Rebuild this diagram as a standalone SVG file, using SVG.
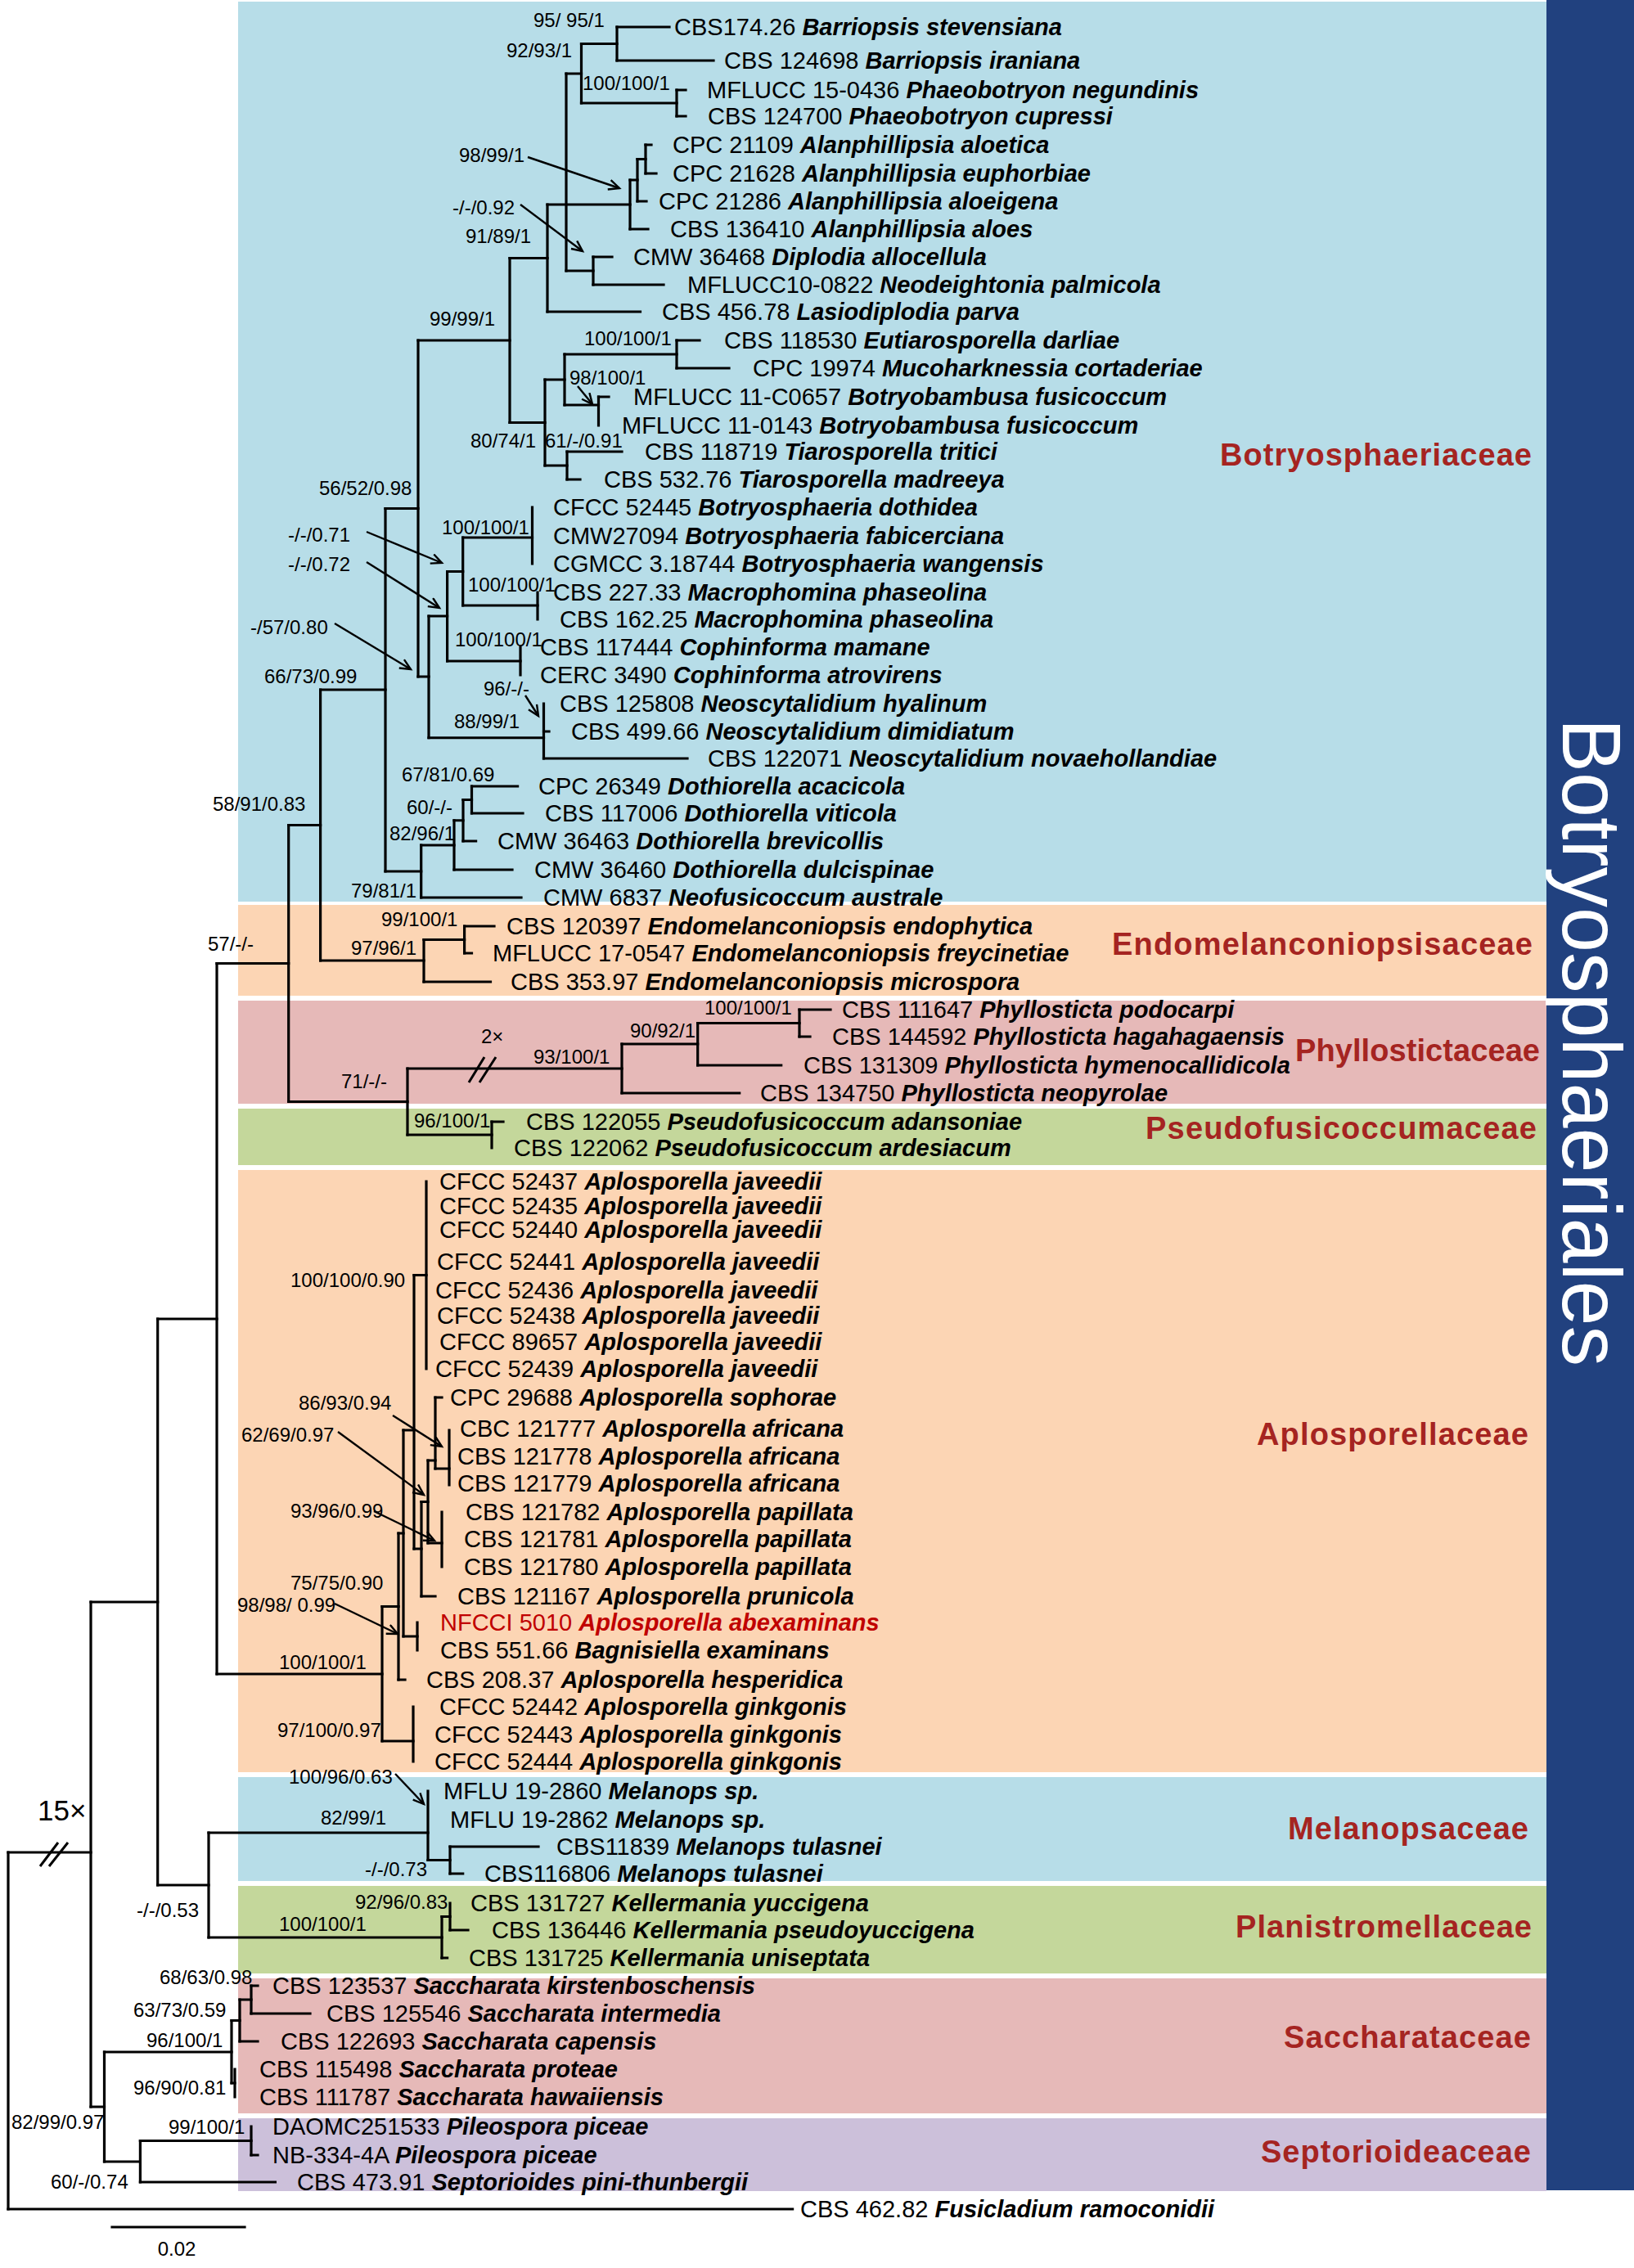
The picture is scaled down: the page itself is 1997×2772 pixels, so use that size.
<svg xmlns="http://www.w3.org/2000/svg" width="1997" height="2772" viewBox="0 0 1997 2772">
<defs>
<style>
.tx{font-family:"Liberation Sans",Arial,sans-serif;font-size:29px;fill:#000}
.sp{font-weight:bold;font-style:italic}
.red{fill:#c00000}
.bs{font-family:"Liberation Sans",Arial,sans-serif;font-size:24px;fill:#000}
.big{font-family:"Liberation Sans",Arial,sans-serif;fill:#000}
.fam{font-family:"Liberation Sans",Arial,sans-serif;font-size:38px;font-weight:bold;fill:#a52421}
.br{fill:none;stroke:#000;stroke-width:3.2;stroke-linecap:square}
.ar{fill:none;stroke:#000;stroke-width:2.4}
.brk{fill:none;stroke:#000;stroke-width:3}
</style>
<marker id="ah" markerUnits="userSpaceOnUse" markerWidth="20" markerHeight="20" refX="14" refY="7" orient="auto"><path d="M1,1 L14,7 L1,13" fill="none" stroke="#000" stroke-width="2.4"/></marker>
</defs>
<rect width="1997" height="2772" fill="#fff"/>
<g id="bands">
<rect x="291" y="2" width="1599" height="1100" fill="#b7dde8"/>
<rect x="291" y="1106" width="1599" height="111" fill="#fcd5b4"/>
<rect x="291" y="1223" width="1599" height="126" fill="#e6b9b8"/>
<rect x="291" y="1355" width="1599" height="69" fill="#c4d79b"/>
<rect x="291" y="1430" width="1599" height="736" fill="#fcd5b4"/>
<rect x="291" y="2172" width="1599" height="127" fill="#b7dde8"/>
<rect x="291" y="2305" width="1599" height="107" fill="#c4d79b"/>
<rect x="291" y="2418" width="1599" height="165" fill="#e6b9b8"/>
<rect x="291" y="2589" width="1599" height="89" fill="#ccc0da"/>
<rect x="1890" y="0" width="107" height="2677" fill="#21417f"/>
<text transform="translate(1910,878) rotate(90)" font-family="Liberation Sans,Arial,sans-serif" font-size="102" fill="#fff" textLength="792" lengthAdjust="spacingAndGlyphs">Botryosphaeriales</text>
</g>
<g id="connectors">
<path class="br" d="M754,33V74M827,110V142M710.5,53.5V126M725,314V348M692,90V331M789,177V212M779,194.5V246M770,220V280M669,250V381M827,416V450M731.5,485V520M690,433V495M693,552V586M666,464V569M623,315.5V516.5M650.5,620V689M657,724V757M565.7,657V740M636,791V825M546.6,698.5V808M664.5,860V927M524,753V901.75M511,416V827M576.5,961V994M566,977.5V1028M555,1002.75V1063M514.7,1033V1097M471,621.5V1065M567.6,1132V1165M518,1148.5V1200M391.6,843V1174M977,1234V1267M852.7,1250.5V1302M760,1276V1336M601,1371V1403M498,1306V1387M352.7,1008.5V1346.5M521,1444V1673M549,1748V1815M532,1708V1795M540,1848V1915M523,1785V1886M515,1835.5V1951M506,1558.5V1893M510,1983V2017M493,1748V2000M487,1874V2053M505,2086V2153M467,1963.5V2128M265,1177.5V2046M550,2257V2290M523,2189V2273.5M550,2326V2359M540,2342.5V2393M255,2240V2368M192.7,1612V2304M307,2427V2461M293,2444V2495M287,2529V2563M283,2469.5V2546M307,2599V2634M171.4,2616.5V2667M127.5,2508V2642M111,1958V2575M10,2264V2700"/>
<path class="br" d="M754,33H818M754,74H872M827,110H838M827,142H838M710.5,53.5H754M710.5,126H827M725,314H748M725,348H811M692,90H710.5M692,331H725M789,177H796M789,212H802M779,194.5H789M779,246H790M770,220H779M770,280H792M669,250H770M669,381H782.5M827,416H855M827,450H891M731.5,485H744M690,433H827M690,495H731.5M693,552H760M693,586H709M666,464H690M666,569H693M623,315.5H669M623,516.5H666M565.7,657H650.5M565.7,740H657M546.6,808H636M546.6,698.5H565.7M664.5,927H840M664.5,894H671M524,753H546.6M524,901.75H664.5M511,416H623M511,827H524M576.5,961H632.6M576.5,994H639M566,977.5H576.5M566,1028H581.6M555,1002.75H566M555,1063H626M514.7,1033H555M514.7,1097H637M471,621.5H511M471,1065H514.7M567.6,1132H604M567.6,1165H576.5M518,1148.5H567.6M518,1200H599.5M391.6,843H471M391.6,1174H518M977,1234H1015M977,1267H990M852.7,1250.5H977M852.7,1302H954.7M760,1276H852.7M760,1336H903.7M601,1371H615M498,1306H760M498,1387H601M352.7,1008.5H391.6M352.7,1346.5H498M506,1558.5H521M532,1708H540M532,1795H549M523,1785H532M523,1886H540M515,1951H532M515,1835.5H523M506,1893H515M493,1748H506M493,2000H510M487,2053H495M487,1874H493M467,1963.5H487M467,2128H505M265,1177.5H352.7M265,2046H467M550,2257H658M550,2290H565.7M523,2273.5H550M550,2359H572M540,2342.5H550M540,2393H546.6M255,2240H523M255,2368H540M192.7,1612H265M192.7,2304H255M307,2427H315M307,2461H379M293,2444H307M293,2495H315M283,2469.5H293M283,2546H287M307,2634H315M171.4,2616.5H307M171.4,2667H336.4M127.5,2508H283M127.5,2642H171.4M111,1958H192.7M111,2575H127.5M10,2264H111M10,2700H968.6"/>
<path class="brk" d="M573,1323L592,1292M586,1323L606,1292M49,2281L71,2252M60,2281L83,2252"/>
<path class="br" d="M137,2722H299"/>
<g class="ar" marker-end="url(#ah)">
<line x1="645" y1="192" x2="757" y2="230"/>
<line x1="636" y1="250" x2="712" y2="307"/>
<line x1="706" y1="472" x2="724" y2="494"/>
<line x1="448" y1="650" x2="540" y2="688"/>
<line x1="448" y1="687" x2="537" y2="743"/>
<line x1="409" y1="762" x2="502" y2="818"/>
<line x1="642" y1="850" x2="658" y2="875"/>
<line x1="480" y1="1730" x2="540" y2="1768"/>
<line x1="413" y1="1750" x2="518" y2="1827"/>
<line x1="457" y1="1847" x2="531" y2="1883"/>
<line x1="409" y1="1960" x2="486" y2="1997"/>
<line x1="483" y1="2168" x2="518" y2="2205"/>
</g>
</g>
<g id="support" class="bs">
<text x="652" y="33">95/ 95/1</text>
<text x="619" y="70">92/93/1</text>
<text x="712" y="110">100/100/1</text>
<text x="561" y="198">98/99/1</text>
<text x="553" y="262">-/-/0.92</text>
<text x="569" y="297">91/89/1</text>
<text x="525" y="398">99/99/1</text>
<text x="714" y="422">100/100/1</text>
<text x="696" y="470">98/100/1</text>
<text x="575" y="547">80/74/1</text>
<text x="666" y="547">61/-/0.91</text>
<text x="390" y="605">56/52/0.98</text>
<text x="540" y="653">100/100/1</text>
<text x="352" y="662">-/-/0.71</text>
<text x="352" y="698">-/-/0.72</text>
<text x="572" y="723">100/100/1</text>
<text x="306" y="775">-/57/0.80</text>
<text x="556" y="790">100/100/1</text>
<text x="323" y="835">66/73/0.99</text>
<text x="591" y="850">96/-/-</text>
<text x="555" y="890">88/99/1</text>
<text x="491" y="955">67/81/0.69</text>
<text x="260" y="991">58/91/0.83</text>
<text x="497" y="995">60/-/-</text>
<text x="476" y="1027">82/96/1</text>
<text x="429" y="1097">79/81/1</text>
<text x="466" y="1132">99/100/1</text>
<text x="254" y="1162">57/-/-</text>
<text x="429" y="1167">97/96/1</text>
<text x="861" y="1240">100/100/1</text>
<text x="770" y="1268">90/92/1</text>
<text x="588" y="1275">2×</text>
<text x="652" y="1300">93/100/1</text>
<text x="417" y="1330">71/-/-</text>
<text x="506" y="1378">96/100/1</text>
<text x="355" y="1573">100/100/0.90</text>
<text x="365" y="1723">86/93/0.94</text>
<text x="295" y="1762">62/69/0.97</text>
<text x="355" y="1855">93/96/0.99</text>
<text x="355" y="1943">75/75/0.90</text>
<text x="290" y="1970">98/98/ 0.99</text>
<text x="341" y="2040">100/100/1</text>
<text x="339" y="2123">97/100/0.97</text>
<text x="353" y="2180">100/96/0.63</text>
<text x="392" y="2230">82/99/1</text>
<text x="446" y="2293">-/-/0.73</text>
<text x="434" y="2333">92/96/0.83</text>
<text x="341" y="2360">100/100/1</text>
<text x="167" y="2343">-/-/0.53</text>
<text x="195" y="2425">68/63/0.98</text>
<text x="163" y="2465">63/73/0.59</text>
<text x="179" y="2502">96/100/1</text>
<text x="163" y="2560">96/90/0.81</text>
<text x="14" y="2602">82/99/0.97</text>
<text x="206" y="2608">99/100/1</text>
<text x="62" y="2675">60/-/0.74</text>
<text x="216" y="2757" text-anchor="middle">0.02</text>
<text x="46" y="2225" class="big" font-size="35">15×</text>
</g>
<g id="families" class="fam">
<text x="1491" y="569" textLength="381">Botryosphaeriaceae</text>
<text x="1359" y="1167" textLength="514">Endomelanconiopsisaceae</text>
<text x="1583" y="1297" textLength="299">Phyllostictaceae</text>
<text x="1400" y="1392" textLength="478">Pseudofusicoccumaceae</text>
<text x="1536" y="1766" textLength="332">Aplosporellaceae</text>
<text x="1574" y="2248" textLength="294">Melanopsaceae</text>
<text x="1510" y="2368" textLength="362">Planistromellaceae</text>
<text x="1569" y="2503" textLength="302">Saccharataceae</text>
<text x="1541" y="2643" textLength="330">Septorioideaceae</text>
</g>
<g id="taxa" class="tx">
<g id="n01"><text x="824" y="43">CBS174.26 <tspan class="sp">Barriopsis stevensiana</tspan></text></g>
<g id="n02"><text x="885" y="84">CBS 124698 <tspan class="sp">Barriopsis iraniana</tspan></text></g>
<g id="n03"><text x="864" y="120">MFLUCC 15-0436 <tspan class="sp">Phaeobotryon negundinis</tspan></text></g>
<g id="n04"><text x="865" y="152">CBS 124700 <tspan class="sp">Phaeobotryon cupressi</tspan></text></g>
<g id="n05"><text x="822" y="187">CPC 21109 <tspan class="sp">Alanphillipsia aloetica</tspan></text></g>
<g id="n06"><text x="822" y="222">CPC 21628 <tspan class="sp">Alanphillipsia euphorbiae</tspan></text></g>
<g id="n07"><text x="805" y="256">CPC 21286 <tspan class="sp">Alanphillipsia aloeigena</tspan></text></g>
<g id="n08"><text x="819" y="290">CBS 136410 <tspan class="sp">Alanphillipsia aloes</tspan></text></g>
<g id="n09"><text x="774" y="324">CMW 36468 <tspan class="sp">Diplodia allocellula</tspan></text></g>
<g id="n10"><text x="840" y="358">MFLUCC10-0822 <tspan class="sp">Neodeightonia palmicola</tspan></text></g>
<g id="n11"><text x="809" y="391">CBS 456.78 <tspan class="sp">Lasiodiplodia parva</tspan></text></g>
<g id="n12"><text x="885" y="426">CBS 118530 <tspan class="sp">Eutiarosporella darliae</tspan></text></g>
<g id="n13"><text x="920" y="460">CPC 19974 <tspan class="sp">Mucoharknessia cortaderiae</tspan></text></g>
<g id="n14"><text x="774" y="495">MFLUCC 11-C0657 <tspan class="sp">Botryobambusa fusicoccum</tspan></text></g>
<g id="n15"><text x="760" y="530">MFLUCC 11-0143 <tspan class="sp">Botryobambusa fusicoccum</tspan></text></g>
<g id="n16"><text x="788" y="562">CBS 118719 <tspan class="sp">Tiarosporella tritici</tspan></text></g>
<g id="n17"><text x="738" y="596">CBS 532.76 <tspan class="sp">Tiarosporella madreeya</tspan></text></g>
<g id="n18"><text x="676" y="630">CFCC 52445 <tspan class="sp">Botryosphaeria dothidea</tspan></text></g>
<g id="n19"><text x="676" y="665">CMW27094 <tspan class="sp">Botryosphaeria fabicerciana</tspan></text></g>
<g id="n20"><text x="676" y="699">CGMCC 3.18744 <tspan class="sp">Botryosphaeria wangensis</tspan></text></g>
<g id="n21"><text x="676" y="734">CBS 227.33 <tspan class="sp">Macrophomina phaseolina</tspan></text></g>
<g id="n22"><text x="684" y="767">CBS 162.25 <tspan class="sp">Macrophomina phaseolina</tspan></text></g>
<g id="n23"><text x="660" y="801">CBS 117444 <tspan class="sp">Cophinforma mamane</tspan></text></g>
<g id="n24"><text x="660" y="835">CERC 3490 <tspan class="sp">Cophinforma atrovirens</tspan></text></g>
<g id="n25"><text x="684" y="870">CBS 125808 <tspan class="sp">Neoscytalidium hyalinum</tspan></text></g>
<g id="n26"><text x="698" y="904">CBS 499.66 <tspan class="sp">Neoscytalidium dimidiatum</tspan></text></g>
<g id="n27"><text x="865" y="937">CBS 122071 <tspan class="sp">Neoscytalidium novaehollandiae</tspan></text></g>
<g id="n28"><text x="658" y="971">CPC 26349 <tspan class="sp">Dothiorella acacicola</tspan></text></g>
<g id="n29"><text x="666" y="1004">CBS 117006 <tspan class="sp">Dothiorella viticola</tspan></text></g>
<g id="n30"><text x="608" y="1038">CMW 36463 <tspan class="sp">Dothiorella brevicollis</tspan></text></g>
<g id="n31"><text x="653" y="1073">CMW 36460 <tspan class="sp">Dothiorella dulcispinae</tspan></text></g>
<g id="n32"><text x="664" y="1107">CMW 6837 <tspan class="sp">Neofusicoccum australe</tspan></text></g>
<g id="n33"><text x="619" y="1142">CBS 120397 <tspan class="sp">Endomelanconiopsis endophytica</tspan></text></g>
<g id="n34"><text x="602" y="1175">MFLUCC 17-0547 <tspan class="sp">Endomelanconiopsis freycinetiae</tspan></text></g>
<g id="n35"><text x="624" y="1210">CBS 353.97 <tspan class="sp">Endomelanconiopsis microspora</tspan></text></g>
<g id="n36"><text x="1029" y="1244">CBS 111647 <tspan class="sp">Phyllosticta podocarpi</tspan></text></g>
<g id="n37"><text x="1017" y="1277">CBS 144592 <tspan class="sp">Phyllosticta hagahagaensis</tspan></text></g>
<g id="n38"><text x="982" y="1312">CBS 131309 <tspan class="sp">Phyllosticta hymenocallidicola</tspan></text></g>
<g id="n39"><text x="929" y="1346">CBS 134750 <tspan class="sp">Phyllosticta neopyrolae</tspan></text></g>
<g id="n40"><text x="643" y="1381">CBS 122055 <tspan class="sp">Pseudofusicoccum adansoniae</tspan></text></g>
<g id="n41"><text x="628" y="1413">CBS 122062 <tspan class="sp">Pseudofusicoccum ardesiacum</tspan></text></g>
<g id="n42"><text x="537" y="1454">CFCC 52437 <tspan class="sp">Aplosporella javeedii</tspan></text></g>
<g id="n43"><text x="537" y="1484">CFCC 52435 <tspan class="sp">Aplosporella javeedii</tspan></text></g>
<g id="n44"><text x="537" y="1513">CFCC 52440 <tspan class="sp">Aplosporella javeedii</tspan></text></g>
<g id="n45"><text x="534" y="1552">CFCC 52441 <tspan class="sp">Aplosporella javeedii</tspan></text></g>
<g id="n46"><text x="532" y="1587">CFCC 52436 <tspan class="sp">Aplosporella javeedii</tspan></text></g>
<g id="n47"><text x="534" y="1618">CFCC 52438 <tspan class="sp">Aplosporella javeedii</tspan></text></g>
<g id="n48"><text x="537" y="1650">CFCC 89657 <tspan class="sp">Aplosporella javeedii</tspan></text></g>
<g id="n49"><text x="532" y="1683">CFCC 52439 <tspan class="sp">Aplosporella javeedii</tspan></text></g>
<g id="n50"><text x="550" y="1718">CPC 29688 <tspan class="sp">Aplosporella sophorae</tspan></text></g>
<g id="n51"><text x="562" y="1756">CBC 121777 <tspan class="sp">Aplosporella africana</tspan></text></g>
<g id="n52"><text x="559" y="1790">CBS 121778 <tspan class="sp">Aplosporella africana</tspan></text></g>
<g id="n53"><text x="559" y="1823">CBS 121779 <tspan class="sp">Aplosporella africana</tspan></text></g>
<g id="n54"><text x="569" y="1858">CBS 121782 <tspan class="sp">Aplosporella papillata</tspan></text></g>
<g id="n55"><text x="567" y="1891">CBS 121781 <tspan class="sp">Aplosporella papillata</tspan></text></g>
<g id="n56"><text x="567" y="1925">CBS 121780 <tspan class="sp">Aplosporella papillata</tspan></text></g>
<g id="n57"><text x="559" y="1961">CBS 121167 <tspan class="sp">Aplosporella prunicola</tspan></text></g>
<g id="n58"><text x="538" y="1993" class="red">NFCCI 5010 <tspan class="sp">Aplosporella abexaminans</tspan></text></g>
<g id="n59"><text x="538" y="2027">CBS 551.66 <tspan class="sp">Bagnisiella examinans</tspan></text></g>
<g id="n60"><text x="521" y="2063">CBS 208.37 <tspan class="sp">Aplosporella hesperidica</tspan></text></g>
<g id="n61"><text x="537" y="2096">CFCC 52442 <tspan class="sp">Aplosporella ginkgonis</tspan></text></g>
<g id="n62"><text x="531" y="2130">CFCC 52443 <tspan class="sp">Aplosporella ginkgonis</tspan></text></g>
<g id="n63"><text x="531" y="2163">CFCC 52444 <tspan class="sp">Aplosporella ginkgonis</tspan></text></g>
<g id="n64"><text x="542" y="2199">MFLU 19-2860 <tspan class="sp">Melanops sp.</tspan></text></g>
<g id="n65"><text x="550" y="2234">MFLU 19-2862 <tspan class="sp">Melanops sp.</tspan></text></g>
<g id="n66"><text x="680" y="2267">CBS11839 <tspan class="sp">Melanops tulasnei</tspan></text></g>
<g id="n67"><text x="592" y="2300">CBS116806 <tspan class="sp">Melanops tulasnei</tspan></text></g>
<g id="n68"><text x="575" y="2336">CBS 131727 <tspan class="sp">Kellermania yuccigena</tspan></text></g>
<g id="n69"><text x="601" y="2369">CBS 136446 <tspan class="sp">Kellermania pseudoyuccigena</tspan></text></g>
<g id="n70"><text x="573" y="2403">CBS 131725 <tspan class="sp">Kellermania uniseptata</tspan></text></g>
<g id="n71"><text x="333" y="2437">CBS 123537 <tspan class="sp">Saccharata kirstenboschensis</tspan></text></g>
<g id="n72"><text x="399" y="2471">CBS 125546 <tspan class="sp">Saccharata intermedia</tspan></text></g>
<g id="n73"><text x="343" y="2505">CBS 122693 <tspan class="sp">Saccharata capensis</tspan></text></g>
<g id="n74"><text x="317" y="2539">CBS 115498 <tspan class="sp">Saccharata proteae</tspan></text></g>
<g id="n75"><text x="317" y="2573">CBS 111787 <tspan class="sp">Saccharata hawaiiensis</tspan></text></g>
<g id="n76"><text x="333" y="2609">DAOMC251533 <tspan class="sp">Pileospora piceae</tspan></text></g>
<g id="n77"><text x="333" y="2644">NB-334-4A <tspan class="sp">Pileospora piceae</tspan></text></g>
<g id="n78"><text x="363" y="2677">CBS 473.91 <tspan class="sp">Septorioides pini-thunbergii</tspan></text></g>
<g id="n79"><text x="978" y="2710">CBS 462.82 <tspan class="sp">Fusicladium ramoconidii</tspan></text></g>
</g>
</svg>
